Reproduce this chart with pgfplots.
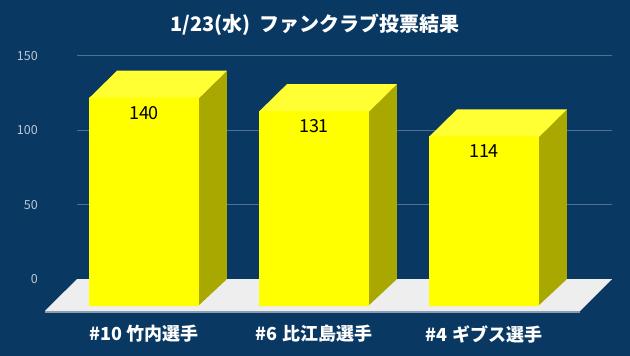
\documentclass[border=0pt]{standalone}
\usepackage{pgfplots}
\pgfplotsset{compat=1.18}
\usepackage{pgfplotstable}
\usepackage{fontspec}
\setmainfont{Noto Sans CJK JP}
\definecolor{bg}{RGB}{9,56,98}
\definecolor{gridc}{RGB}{80,112,145}
\definecolor{tickc}{RGB}{192,200,210}
\definecolor{frontc}{RGB}{255,255,0}
\definecolor{topc}{RGB}{255,255,51}
\definecolor{sidec}{RGB}{168,168,0}
\definecolor{floorc}{RGB}{238,238,238}
\definecolor{floorline}{RGB}{140,155,175}
\pgfplotstableread{
x v
0 140
1 131
2 114
}\votes
\begin{document}
\begin{tikzpicture}
\fill[bg] (-77bp,-45bp) rectangle (553bp,311bp);
\begin{axis}[
  at={(0,0)}, anchor=south west, scale only axis,
  x=170bp, y=1.488bp,
  xmin=-0.3941, xmax=2.7529, ymin=-21.5, ymax=150,
  clip=false,
  axis line style={draw=none},
  major tick length=0pt,
  ytick={0,50,100,150},
  xtick={0,1,2},
  xticklabels={\#10 竹内選手, \#6 比江島選手, \#4 ギブス選手},
  ymajorgrids, grid style={color=gridc, line width=0.8bp},
  /pgf/number format/assume math mode=true,
  xticklabel style={font=\bfseries\fontsize{18bp}{20bp}\selectfont, text=white, anchor=center, yshift=-23bp, inner sep=0pt},
  yticklabel style={font=\fontsize{12.5bp}{14bp}\selectfont, text=tickc, anchor=east, inner sep=0pt, xshift=-39bp},
  title={1/23(水)\ \ ファンクラブ投票結果},
  title style={at={(axis description cs:0.4449,1.097)}, anchor=center, font=\bfseries\fontsize{20bp}{22bp}\selectfont, text=white, inner sep=0pt},
]
% floor
\addplot[fill=floorc, draw=none] coordinates {(-0.3941,0) (2.7529,0) (2.5647,-21.5) (-0.5824,-21.5)} -- cycle;
\addplot[draw=floorline, line width=1.5bp, yshift=-0.75bp] coordinates {(-0.5824,-21.5) (2.5647,-21.5)};
% bar 1 (side and top faces; front face below overlaps their front edges)
\addplot[fill=sidec, draw=none] coordinates {(0.318,-18.15) (0.4882,0) (0.4882,140) (0.318,121.85)} -- cycle;
\addplot[fill=topc, draw=none] coordinates {(-0.3235,121.5) (0.3235,121.5) (0.4882,140) (-0.1588,140)} -- cycle;
% bar 2
\addplot[fill=sidec, draw=none] coordinates {(1.318,-18.15) (1.4882,0) (1.4882,131) (1.318,112.85)} -- cycle;
\addplot[fill=topc, draw=none] coordinates {(0.6765,112.5) (1.3235,112.5) (1.4882,131) (0.8412,131)} -- cycle;
% bar 3
\addplot[fill=sidec, draw=none] coordinates {(2.318,-18.15) (2.4882,0) (2.4882,114) (2.318,95.85)} -- cycle;
\addplot[fill=topc, draw=none] coordinates {(1.6765,95.5) (2.3235,95.5) (2.4882,114) (1.8412,114)} -- cycle;
% front faces
\addplot[ybar, bar width=0.647, fill=frontc, draw=none, yshift=-27bp,
  nodes near coords,
  every node near coord/.append style={anchor=center, yshift=-15bp, text=black, font=\fontsize{18bp}{20bp}\selectfont}]
  table[x=x, y=v] {\votes};
\end{axis}
\pgfresetboundingbox
\path[use as bounding box] (-77bp,-45bp) rectangle (553bp,311bp);
\end{tikzpicture}
\end{document}
